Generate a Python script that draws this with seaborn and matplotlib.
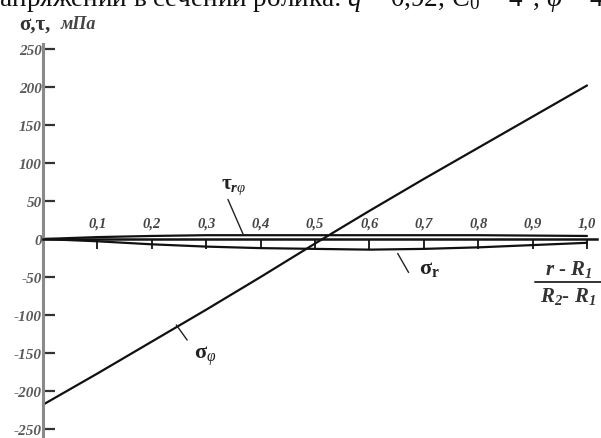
import matplotlib
matplotlib.use("Agg")
import matplotlib.pyplot as plt
import seaborn as sns
import pandas as pd

# Relative radius (r - R1) / (R2 - R1) and stresses, MPa
r_rel = [0.0, 0.1, 0.2, 0.3, 0.4, 0.5, 0.6, 0.7, 0.8, 0.9, 1.0]
sigma_phi = [-218, -177, -135, -93, -50, -6, 37, 79, 120, 161, 202]
sigma_r = [0, -3, -7, -10, -12, -13, -14, -13, -11, -8, -5]
tau_rphi = [0, 2.5, 4, 5, 5, 5, 5, 5, 5, 4.5, 4]

y_ticks = [250, 200, 150, 100, 50, 0, -50, -100, -150, -200, -250]
x_ticks = [0.1, 0.2, 0.3, 0.4, 0.5, 0.6, 0.7, 0.8, 0.9, 1.0]
x_tick_labels = ["0,1", "0,2", "0,3", "0,4", "0,5", "0,6", "0,7", "0,8", "0,9", "1,0"]

sns.set_style("white")
plt.rcParams["font.family"] = ["Liberation Serif", "DejaVu Serif"]
plt.rcParams["mathtext.fontset"] = "custom"
plt.rcParams["mathtext.rm"] = "Liberation Serif"
plt.rcParams["mathtext.it"] = "Liberation Serif:italic"
plt.rcParams["mathtext.bf"] = "Liberation Serif:bold"
plt.rcParams["mathtext.bfit"] = "Liberation Serif:italic:bold"

W, H = 601, 439
fig = plt.figure(figsize=(W / 100, H / 100), dpi=100)
ax = fig.add_axes([0, 0, 1, 1])
ax.set_facecolor("white")

# pixel layout of the plotting frame
x0_px, x_scale = 43, 544.0     # px of r=0, px per unit r
y0_px, y_scale = 240, 0.76     # px of zero stress, px per MPa
ax.set_xlim(-x0_px / x_scale, (W - x0_px) / x_scale)
ax.set_ylim(-(H - y0_px) / y_scale, y0_px / y_scale)

df = pd.DataFrame({"r": r_rel, "sphi": sigma_phi, "sr": sigma_r, "tau": tau_rphi})
line_kw = dict(color="#111111", linewidth=1.6, legend=False, ax=ax)
sns.lineplot(data=df, x="r", y="sphi", **line_kw)
sns.lineplot(data=df, x="r", y="sr", **line_kw)
sns.lineplot(data=df, x="r", y="tau", **line_kw)

# axes crossing at the origin
for side in ("top", "right"):
    ax.spines[side].set_visible(False)
ax.spines["left"].set_position(("data", 0))
ax.spines["left"].set_bounds(-259, 257)
ax.spines["left"].set_color("#8a8a8a")
ax.spines["left"].set_linewidth(2.2)
ax.spines["bottom"].set_position(("data", 0))
ax.spines["bottom"].set_bounds(0, 1.018)
ax.spines["bottom"].set_color("#111111")
ax.spines["bottom"].set_linewidth(1.8)

ax.set_yticks(y_ticks)
ax.set_yticklabels([str(v) for v in y_ticks])
ax.tick_params(axis="y", left=True, direction="in", length=8.5, width=1.6,
               color="#333333", pad=1, labelsize=11, labelcolor="#5a5a5a")
for lab in ax.get_yticklabels():
    lab.set_fontweight("bold")
    lab.set_fontstyle("italic")

ax.set_xticks(x_ticks)
ax.tick_params(axis="x", bottom=True, direction="out", length=7.5, width=1.4,
               color="#222222", labelbottom=False)
for t, s in zip(x_ticks, x_tick_labels):
    ax.text(t, 21, s, ha="center", va="center", fontsize=10.5, fontweight="bold",
            fontstyle="italic", color="#444444")
ax.set_xlabel("")
ax.set_ylabel("")
ax.grid(False)

# vertical axis title
ax.text(-0.043, 277, "σ,τ,", fontsize=15, fontweight="bold", color="#333333",
        ha="left", va="baseline")
ax.text(0.033, 277, "мПа", fontsize=13, fontweight="bold", fontstyle="italic",
        color="#444444", ha="left", va="baseline")

# horizontal axis title as a fraction
ax.text(0.966, -39, r"$\mathbfit{r}$ - $\mathbfit{R_1}$", fontsize=15, color="#333333",
        ha="center", va="center")
ax.plot([0.905, 1.03], [-56, -56], color="#333333", linewidth=1.4)
ax.text(0.966, -74, r"$\mathbfit{R_2}$- $\mathbfit{R_1}$", fontsize=15, color="#333333",
        ha="center", va="center")

# curve labels with leader lines
lead_kw = dict(color="#222222", linewidth=1.0)
ax.plot([0.340, 0.368], [52, 6], **lead_kw)
ax.text(0.35, 70, r"τ$_{\mathbfit{r}\varphi}$", fontsize=15, fontweight="bold",
        color="#222222", ha="center", va="center")
ax.plot([0.652, 0.672], [-19, -44], **lead_kw)
ax.text(0.71, -38, r"σ$_\mathbf{r}$", fontsize=16, fontweight="bold",
        color="#222222", ha="center", va="center")
ax.plot([0.245, 0.265], [-113, -133], **lead_kw)
ax.text(0.298, -153, r"σ$_\varphi$", fontsize=16, fontweight="bold",
        color="#222222", ha="center", va="center")

# caption line running off the top edge
fig.text(-15 / W, 1 - 6.5 / H,
         r"напряжений в сечении ролика: $q$ = 0,92, $C_0$ = 4°, $\varphi$ = 4",
         fontsize=19.5, ha="left", va="baseline", color="#111111")

fig.savefig("out.png", dpi=100, facecolor="white")
